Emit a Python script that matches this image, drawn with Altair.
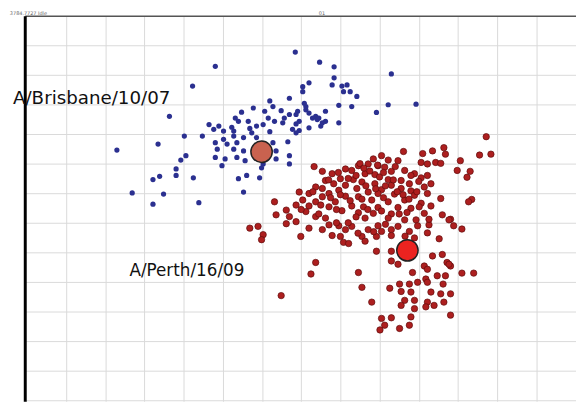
import altair as alt
import pandas as pd

# Antigenic map coordinates (grid units; v grows downward)
blue_u = [6.85,4.81,7.47,7.84,9.30,4.23,7.84,7.20,7.04,7.79,
          8.04,8.17,8.08,8.25,7.04,8.42,6.70,6.20,7.08,9.22,
          7.96,8.29,6.28,5.78,6.49,6.07,6.91,7.12,7.20,7.62,
          8.92,5.48,3.64,7.37,7.45,6.57,6.70,6.87,5.32,6.32,
          7.62,7.96,5.65,6.53,6.87,6.95,4.65,4.90,5.23,5.69,
          6.03,7.20,7.50,6.78,4.77,5.02,5.74,6.20,4.02,4.48,
          5.28,5.53,5.86,5.02,6.66,3.35,4.81,5.11,6.28,2.30,
          4.86,5.28,5.53,6.36,6.70,4.06,4.81,5.36,3.93,5.57,
          6.36,6.03,6.70,4.98,5.99,3.81,3.81,5.61,3.39,3.22,
          4.25,5.40,5.94,2.69,3.49,5.53,3.22,4.39,9.93,
          7.12,7.29,7.54,7.41,6.16,6.95,6.87,5.40,5.86,5.28,
          5.36,5.06]
blue_v = [1.23,1.71,1.57,1.73,1.97,2.38,2.10,2.27,2.40,2.34,
          2.38,2.34,2.57,2.57,2.57,2.73,2.79,2.88,2.96,3.01,
          3.03,3.07,3.07,3.12,3.21,3.23,3.23,3.18,3.29,3.23,
          3.27,3.26,3.40,3.40,3.46,3.46,3.34,3.34,3.46,3.57,
          3.57,3.62,3.57,3.62,3.66,3.57,3.68,3.73,3.77,3.81,
          3.68,3.79,3.73,3.84,3.84,3.90,3.96,3.92,4.07,4.07,
          4.07,4.12,4.12,4.18,4.26,4.34,4.29,4.34,4.29,4.54,
          4.51,4.51,4.57,4.57,4.73,4.73,4.79,4.79,4.88,4.90,
          4.84,5.01,5.01,5.07,5.14,5.18,5.40,5.40,5.43,5.54,
          5.48,5.51,5.48,5.99,6.03,5.96,6.37,6.32,2.99,
          3.07,3.46,3.62,3.51,3.46,3.88,3.96,3.57,3.73,3.90,
          4.29,4.84]

red_u = [11.72,10.64,10.35,10.10,10.68,11.55,11.84,9.61,9.05,8.84,
         9.22,9.47,10.06,10.22,10.43,10.56,11.06,8.71,8.46,8.96,
         9.13,7.33,8.13,8.29,9.64,9.30,10.98,11.31,7.54,7.79,
         8.63,8.88,9.89,10.22,10.06,11.23,8.00,8.33,9.22,9.55,
         9.76,7.62,8.55,7.83,8.13,8.88,9.30,10.31,10.14,7.37,
         7.54,8.42,9.05,9.55,9.80,7.96,6.95,7.20,7.71,8.71,
         8.96,9.38,9.89,10.22,7.54,8.13,8.46,10.56,11.35,11.27,
         7.04,7.37,7.87,8.80,9.22,9.64,6.32,10.06,6.87,7.20,
         7.71,8.29,8.59,8.96,9.47,9.80,10.31,6.62,7.12,8.04,
         8.46,8.84,9.30,10.14,10.60,6.36,6.70,7.37,7.62,8.63,
         9.22,9.64,9.93,10.81,6.87,6.62,7.71,7.96,8.29,8.96,
         9.47,10.26,10.89,11.10,5.69,5.90,7.20,7.54,8.13,8.71,
         9.05,9.30,9.76,6.03,7.79,8.00,8.55,8.92,9.30,10.22,
         6.99,5.99,8.08,8.21,8.63,9.89,10.52,8.92,9.30,10.35,
         10.60,9.30,9.47,10.14,10.72,7.37,10.22,10.81,7.25,8.46,
         9.84,11.10,11.40,10.47,10.18,9.97,10.22,9.51,9.76,8.55,
         9.26,9.55,9.80,10.31,10.56,10.81,6.49,9.64,9.89,10.22,
         10.64,8.80,9.55,10.18,10.39,9.89,10.81,9.05,9.30,9.80,
         9.13,9.76,9.01,9.51,
         10.01,10.77,10.26,9.97,10.77,10.62,10.68,
         8.50,8.60,8.75,9.00,9.10,8.40,8.20,8.65,8.90,9.15,
         9.35,9.45,9.60,9.10,8.55,8.25,8.00,7.75,7.50,7.90,
         8.40,8.70,9.05,9.50,9.75,9.95,10.00,9.80,9.40,8.95,
         7.95,7.70,7.30,7.00,7.45,8.20,8.85,9.15,9.65,8.45,
         7.90,9.70]
red_v = [4.09,4.46,4.57,4.66,4.68,4.71,4.68,4.59,4.73,4.84,
         4.88,4.90,4.96,5.01,4.96,4.99,4.90,5.01,5.07,5.07,
         5.12,5.10,5.18,5.23,5.23,5.26,5.23,5.26,5.26,5.34,
         5.34,5.37,5.34,5.40,5.48,5.46,5.51,5.54,5.54,5.57,
         5.68,5.57,5.62,5.68,5.73,5.68,5.73,5.68,5.79,5.79,
         5.84,5.84,5.88,5.84,5.92,5.90,5.96,6.01,6.01,5.96,
         6.01,6.03,6.07,6.01,6.12,6.10,6.12,6.18,6.21,6.29,
         6.23,6.29,6.29,6.23,6.29,6.23,6.29,6.34,6.40,6.43,
         6.46,6.43,6.46,6.48,6.48,6.51,6.43,6.57,6.62,6.59,
         6.66,6.68,6.70,6.68,6.73,6.73,6.79,6.79,6.84,6.84,
         6.84,6.90,6.90,6.88,6.96,7.03,7.07,7.10,7.12,7.10,
         7.12,7.07,7.10,7.21,7.18,7.12,7.18,7.23,7.23,7.23,
         7.29,7.23,7.29,7.40,7.43,7.46,7.46,7.46,7.43,7.34,
         7.46,7.57,7.66,7.70,7.62,7.51,7.54,7.96,7.96,8.12,
         8.07,8.29,8.40,8.46,8.34,8.34,8.57,8.46,8.73,8.68,
         8.68,8.70,8.70,8.79,8.90,9.01,9.01,9.07,9.07,9.18,
         9.21,9.32,9.34,9.34,9.40,9.40,9.46,9.62,9.62,9.68,
         9.68,9.68,9.79,9.84,9.79,9.90,10.12,10.23,10.21,10.18,
         10.46,10.46,10.62,10.57,
         6.46,6.90,6.88,7.10,8.40,9.07,8.79,
         5.00,5.15,5.25,5.45,5.30,5.40,5.50,5.75,5.85,5.75,
         5.55,5.95,6.05,6.15,6.20,6.25,6.05,6.15,6.40,6.55,
         6.80,6.55,6.60,6.70,6.20,5.95,5.60,5.40,5.10,5.05,
         5.30,5.55,5.95,6.55,6.70,7.00,7.30,7.05,7.45,7.35,
         7.00,6.65]

strain_names = ["A/Brisbane/10/07", "A/Perth/16/09"]
strain_u = [5.99, 9.71]
strain_v = [4.60, 7.93]
strain_fill = ["#c9624f", "#ec2320"]

label_text = ["A/Brisbane/10/07", "A/Perth/16/09"]
label_u = [-0.35, 2.62]
label_v = [2.77, 8.62]
label_size = [18.5, 17]

header_text = ["3784.7727 Idle", "01"]
header_u = [-0.43, 7.45]
header_v = [-0.17, -0.17]

grid_u = list(range(1, 15))
grid_v = list(range(1, 14))

blue = pd.DataFrame({"u": blue_u, "v": blue_v})
red = pd.DataFrame({"u": red_u, "v": red_v})
strains = pd.DataFrame({"u": strain_u, "v": strain_v, "name": strain_names, "fill": strain_fill})
labels = pd.DataFrame({"u": label_u, "v": label_v, "text": label_text, "size": label_size})
header = pd.DataFrame({"u": header_u, "v": header_v, "text": header_text})

xs = alt.Scale(domain=[-0.05, 14.01], nice=False, zero=False)
ys = alt.Scale(domain=[0, 13.03], nice=False, zero=False, reverse=True)
X = alt.X("u:Q", scale=xs, axis=alt.Axis(orient="top", values=grid_u, labels=False, ticks=False,
                                           title=None, grid=True, gridColor="#d9d9d9", gridWidth=1,
                                           domain=True, domainColor="#555555", domainWidth=1.5))
Y = alt.Y("v:Q", scale=ys, axis=alt.Axis(orient="left", values=grid_v, labels=False, ticks=False,
                                           title=None, grid=True, gridColor="#d9d9d9", gridWidth=1,
                                           domain=True, domainColor="#000000", domainWidth=3))

blue_layer = alt.Chart(blue).mark_circle(size=28, color="#2b3090", opacity=1).encode(x=X, y=Y)
red_layer = alt.Chart(red).mark_point(filled=True, shape="circle", size=42, fill="#ad1f1f",
                                      stroke="#5e0c0c", strokeWidth=0.7, opacity=1).encode(x=X, y=Y)
strain_layer = alt.Chart(strains).mark_point(filled=True, shape="circle", size=470, stroke="#222222",
                                             strokeWidth=1.5, opacity=1).encode(
    x=X, y=Y, fill=alt.Fill("fill:N", scale=None))
label_layer = alt.Chart(labels).mark_text(align="left", baseline="middle", font="DejaVu Sans",
                                          color="#111111").encode(
    x=X, y=Y, text="text:N", size=alt.Size("size:Q", scale=None))
header_layer = alt.Chart(header).mark_text(align="left", baseline="top", font="DejaVu Sans",
                                           fontSize=5, color="#666666").encode(x=X, y=Y, text="text:N")

chart = alt.layer(blue_layer, red_layer, strain_layer, label_layer, header_layer).properties(
    width=559, height=391,
    autosize=alt.AutoSizeParams(type="none"),
    padding={"left": 17, "top": 5, "right": 0, "bottom": 0},
    background="white",
).configure_view(stroke=None)

chart.save("out.html", embed_options={"renderer": "svg", "actions": False})
